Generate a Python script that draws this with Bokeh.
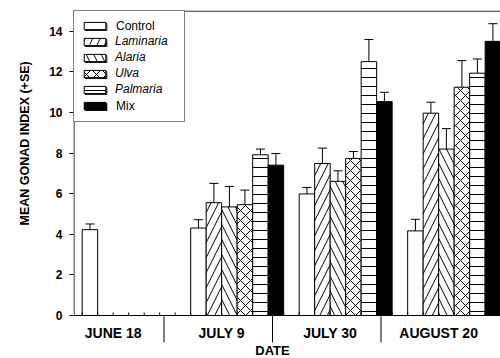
import numpy as np
from bokeh.plotting import figure
from bokeh.models import (Range1d, FixedTicker, Span, Legend, LegendItem, Title,
                          ColumnDataSource)
from bokeh.core.properties import value
from bokeh.embed import file_html
from bokeh.resources import INLINE

# ---------------- data ----------------
dates = ["JUNE 18", "JULY 9", "JULY 30", "AUGUST 20"]
treatments = ["Control", "Laminaria", "Alaria", "Ulva", "Palmaria", "Mix"]

control = [4.23, 4.31, 5.99, 4.17]
control_se = [0.28, 0.41, 0.32, 0.57]
laminaria = [None, 5.56, 7.49, 9.97]
laminaria_se = [None, 0.95, 0.76, 0.54]
alaria = [None, 5.35, 6.61, 8.20]
alaria_se = [None, 1.01, 0.52, 1.01]
ulva = [None, 5.46, 7.74, 11.25]
ulva_se = [None, 0.72, 0.34, 1.31]
palmaria = [None, 7.92, 12.51, 11.94]
palmaria_se = [None, 0.28, 1.09, 0.70]
mix = [None, 7.41, 10.54, 13.51]
mix_se = [None, 0.57, 0.46, 0.87]

y_ticks = [0, 2, 4, 6, 8, 10, 12, 14]

series = [control, laminaria, alaria, ulva, palmaria, mix]
series_se = [control_se, laminaria_se, alaria_se, ulva_se, palmaria_se, mix_se]

# ---------------- styles / layout ----------------
FONT = "Liberation Sans"
styles = [
    dict(fill_color="white", hatch_pattern=None, hatch_scale=12),
    dict(fill_color="white", hatch_pattern="/", hatch_scale=15),
    dict(fill_color="white", hatch_pattern="\\", hatch_scale=15),
    dict(fill_color="white", hatch_pattern="x", hatch_scale=10),
    dict(fill_color="white", hatch_pattern="-", hatch_scale=9),
    dict(fill_color="black", hatch_pattern=None, hatch_scale=12),
]
italic = [False, True, True, True, True, False]

W, H = 500, 358
LEFT, TOP = 73, 10            # frame left / top (px)
AXIS_Y = 315                  # pixel row of value 0
X0, X1 = -0.56, 26.99         # data range across the frame width
Y_TOP = 15.03
PXU = (AXIS_Y - TOP) / Y_TOP  # pixels per value unit
Y_BOT = -(H - AXIS_Y) / PXU   # frame reaches the bottom of the canvas
XPU = (W - LEFT) / (X1 - X0)  # pixels per bar slot

GROUP = 7  # bar slots per date group (6 bars + gap)
N_SLOTS = GROUP * len(dates)

p = figure(width=W, height=H, output_backend="svg", toolbar_location=None,
           x_range=Range1d(X0, X1), y_range=Range1d(Y_BOT, Y_TOP),
           min_border_left=LEFT, min_border_right=0, min_border_top=TOP,
           min_border_bottom=0)
p.outline_line_color = None
p.grid.visible = False
p.background_fill_color = "white"
p.border_fill_color = "white"
p.xaxis.visible = False

renderers = []
for i, (vals, ses) in enumerate(zip(series, series_se)):
    xs, tops, errs = [], [], []
    for g, (v, s) in enumerate(zip(vals, ses)):
        if v is None:
            continue
        xs.append(GROUP * g + i + 0.5)
        tops.append(v)
        errs.append(v + s)
    src = ColumnDataSource(dict(x=xs, top=tops, err=errs,
                                cl=[x - 0.29 for x in xs], cr=[x + 0.29 for x in xs]))
    st = styles[i]
    kw = dict(x="x", top="top", bottom=0, width=1.0, source=src,
              fill_color=st["fill_color"], line_color="black", line_width=1)
    if st["hatch_pattern"]:
        kw.update(hatch_pattern=st["hatch_pattern"], hatch_scale=st["hatch_scale"],
                  hatch_color="black", hatch_weight=1)
    r = p.vbar(**kw)
    p.segment(x0="x", y0="top", x1="x", y1="err", source=src, line_color="black", line_width=1)
    p.segment(x0="cl", y0="err", x1="cr", y1="err", source=src, line_color="black", line_width=1)
    renderers.append(r)

# ---- axis lines drawn inside the frame ----
x_axis_left = X0 + 0.5 / XPU
p.segment(x0=[x_axis_left], y0=[0], x1=[X1], y1=[0], line_color="black", line_width=1)
p.segment(x0=[x_axis_left], y0=[0], x1=[x_axis_left], y1=[Y_TOP], line_color="black",
          line_width=1)
# top frame line
p.add_layout(Span(location=15.0, dimension="width", line_color="black", line_width=1))

# small inward ticks at every bar slot boundary
slot_edges = list(range(0, N_SLOTS))
p.segment(x0=slot_edges, y0=[0] * len(slot_edges), x1=slot_edges,
          y1=[3 / PXU] * len(slot_edges), line_color="black", line_width=1)

# group separators below the axis
seps = [GROUP * g - 1.72 for g in range(1, len(dates))]
p.segment(x0=seps, y0=[0] * len(seps), x1=seps, y1=[-27 / PXU] * len(seps),
          line_color="black", line_width=1)

# category labels and axis title
cat_pos = [GROUP * g + 2 for g in range(len(dates))]
p.text(x=cat_pos, y=[-17 / PXU] * len(cat_pos), text=dates, text_font=value(FONT),
       text_font_size="14px", text_font_style="bold", text_align="center",
       text_baseline="middle", text_color="black")
p.text(x=[seps[1]], y=[-35 / PXU], text=["DATE"], text_font=value(FONT),
       text_font_size="13px", text_font_style="bold", text_align="center",
       text_baseline="middle", text_color="black")

# ---------------- y axis ----------------
ya = p.yaxis[0]
ya.ticker = FixedTicker(ticks=y_ticks)
ya.major_tick_in = 0
ya.major_tick_out = 4
ya.minor_tick_line_color = None
ya.major_label_standoff = 7
ya.major_label_text_font = FONT
ya.major_label_text_font_size = "12px"
ya.major_label_text_font_style = "bold"
ya.major_label_text_color = "black"
ya.axis_line_color = None
ya.major_tick_line_color = "black"

# y title: starts 90 px above the value-0 row
p.add_layout(Title(text="MEAN GONAD INDEX (+SE)", align="left", offset=(H - AXIS_Y) + 90,
                   standoff=30, text_font=FONT, text_font_size="12.5px",
                   text_font_style="bold", text_color="black"), "left")

# ---------------- legends (upright + italic overlay) ----------------
def make_legend(labels, style, bg):
    items = [LegendItem(label=l, renderers=[r]) for l, r in zip(labels, renderers)]
    lg = Legend(items=items, location="top_left", margin=0, padding=8, spacing=2,
                glyph_width=27, glyph_height=9, label_height=14, label_width=60,
                label_standoff=7, label_text_font=FONT, label_text_font_size="12px",
                label_text_font_style=style, label_text_color="black")
    if bg:
        lg.border_line_color = "black"
        lg.border_line_width = 1
        lg.background_fill_color = "white"
        lg.background_fill_alpha = 1.0
    else:
        lg.border_line_alpha = 0
        lg.background_fill_alpha = 0
    return lg

upright_labels = [t if not it else " " for t, it in zip(treatments, italic)]
italic_labels = [t if it else " " for t, it in zip(treatments, italic)]
p.add_layout(make_legend(upright_labels, "normal", True), "center")
p.add_layout(make_legend(italic_labels, "italic", False), "center")

open("out.html", "w").write(file_html(p, INLINE))
